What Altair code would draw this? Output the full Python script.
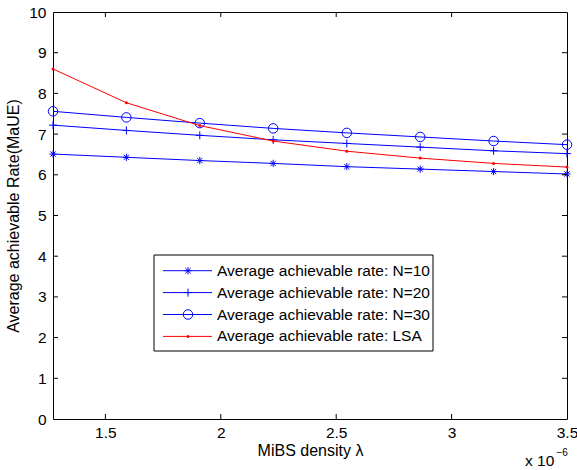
import altair as alt
import pandas as pd

# ---- data ----
x_vals = [1.273, 1.591, 1.909, 2.227, 2.546, 2.864, 3.182, 3.5]
n10 = [6.51, 6.43, 6.35, 6.28, 6.20, 6.14, 6.08, 6.02]
n20 = [7.22, 7.09, 6.97, 6.86, 6.77, 6.68, 6.59, 6.52]
n30 = [7.56, 7.41, 7.27, 7.14, 7.03, 6.93, 6.83, 6.74]
lsa = [8.60, 7.77, 7.21, 6.83, 6.58, 6.41, 6.28, 6.19]
series_names = [
    "Average achievable rate: N=10",
    "Average achievable rate: N=20",
    "Average achievable rate: N=30",
    "Average achievable rate: LSA",
]
x_ticks = [1.5, 2.0, 2.5, 3.0, 3.5]
y_ticks = [0, 1, 2, 3, 4, 5, 6, 7, 8, 9, 10]
x_inner_ticks = [1.5, 2.0, 2.5, 3.0]
y_inner_ticks = [1, 2, 3, 4, 5, 6, 7, 8, 9]

FONT = "Liberation Sans"
FS = 15.5
TFS = 16
W, H = 514, 407

ASTERISK = "M-1,0L1,0M0,-1L0,1M-0.72,-0.72L0.72,0.72M-0.72,0.72L0.72,-0.72"
PLUS = "M-1,0L1,0M0,-1L0,1"

styles = [
    dict(color="#0000ff", shape=ASTERISK, size=52, filled=False),
    dict(color="#0000ff", shape=PLUS, size=64, filled=False),
    dict(color="#0000ff", shape="circle", size=90, filled=False),
    dict(color="#ff0000", shape="circle", size=9, filled=True),
]

xs = alt.Scale(domain=[x_vals[0], x_vals[-1]], nice=False, zero=False)
ys = alt.Scale(domain=[0, 10], nice=False, zero=False)

x_axis = alt.Axis(values=x_ticks, format="~g", ticks=False, domain=False, grid=False,
                  labelFlush=False, labelOverlap=False, labelFontSize=FS, labelFont=FONT,
                  labelColor="black", labelPadding=6, title="MiBS density λ",
                  titleFont=FONT, titleFontSize=TFS, titleFontWeight="normal",
                  titleColor="black", titlePadding=2)
y_axis = alt.Axis(values=y_ticks, format="d", ticks=False, domain=False, grid=False,
                  labelFlush=False, labelOverlap=False, labelFontSize=FS, labelFont=FONT,
                  labelColor="black", labelPadding=7, title="Average achievable Rate(MaUE)",
                  titleFont=FONT, titleFontSize=TFS, titleFontWeight="normal",
                  titleColor="black", titlePadding=7)

series_vals = [n10, n20, n30, lsa]
layers = []
for i, (name, vals) in enumerate(zip(series_names, series_vals)):
    df = pd.DataFrame({"x": x_vals, "y": vals})
    st = styles[i]
    line = alt.Chart(df).mark_line(color=st["color"], strokeWidth=1).encode(
        x=alt.X("x:Q", scale=xs, axis=x_axis),
        y=alt.Y("y:Q", scale=ys, axis=y_axis),
    )
    pts = alt.Chart(df).mark_point(
        shape=st["shape"], size=st["size"], filled=st["filled"],
        color=st["color"], strokeWidth=1, opacity=1,
    ).encode(
        x=alt.X("x:Q", scale=xs, axis=x_axis),
        y=alt.Y("y:Q", scale=ys, axis=y_axis),
    )
    layers += [line, pts]

# inward ticks (MATLAB style box)
xt = pd.DataFrame({"x": x_inner_ticks})
yt = pd.DataFrame({"y": y_inner_ticks})
TL = 5
layers.append(alt.Chart(xt).mark_rule(color="black", strokeWidth=1).encode(
    x=alt.X("x:Q", scale=xs, axis=x_axis), y=alt.value(H), y2=alt.value(H - TL)))
layers.append(alt.Chart(xt).mark_rule(color="black", strokeWidth=1).encode(
    x=alt.X("x:Q", scale=xs, axis=x_axis), y=alt.value(0), y2=alt.value(TL)))
layers.append(alt.Chart(yt).mark_rule(color="black", strokeWidth=1).encode(
    y=alt.Y("y:Q", scale=ys, axis=y_axis), x=alt.value(0), x2=alt.value(TL)))
layers.append(alt.Chart(yt).mark_rule(color="black", strokeWidth=1).encode(
    y=alt.Y("y:Q", scale=ys, axis=y_axis), x=alt.value(W), x2=alt.value(W - TL)))

one = pd.DataFrame({"a": [0]})

# legend box
layers.append(alt.Chart(one).mark_rect(fill="white", stroke="black", strokeWidth=1).encode(
    x=alt.value(101), x2=alt.value(380), y=alt.value(243), y2=alt.value(339)))
for i, name in enumerate(series_names):
    st = styles[i]
    yp = 258.7 + i * 21.9
    layers.append(alt.Chart(one).mark_rule(color=st["color"], strokeWidth=1).encode(
        x=alt.value(110), x2=alt.value(159), y=alt.value(yp)))
    layers.append(alt.Chart(one).mark_point(
        shape=st["shape"], size=st["size"], filled=st["filled"],
        color=st["color"], strokeWidth=1, opacity=1).encode(
        x=alt.value(135), y=alt.value(yp)))
    layers.append(alt.Chart(one).mark_text(
        align="left", baseline="middle", font=FONT, fontSize=FS, color="black").encode(
        x=alt.value(164), y=alt.value(yp), text=alt.value(name)))

# exponent label
layers.append(alt.Chart(one).mark_text(
    align="left", baseline="alphabetic", font=FONT, fontSize=FS, color="black").encode(
    x=alt.value(472), y=alt.value(454), text=alt.value("x 10")))
layers.append(alt.Chart(one).mark_text(
    align="left", baseline="alphabetic", font=FONT, fontSize=10, color="black").encode(
    x=alt.value(503.5), y=alt.value(444), text=alt.value("−6")))

chart = alt.layer(*layers).properties(
    width=W, height=H,
    autosize=alt.AutoSizeParams(type="none"),
    padding={"left": 53, "top": 12, "right": 10, "bottom": 51},
    background="white",
).configure_view(stroke="black", strokeWidth=1)

chart.save("out.html", embed_options={"renderer": "svg", "actions": False})
